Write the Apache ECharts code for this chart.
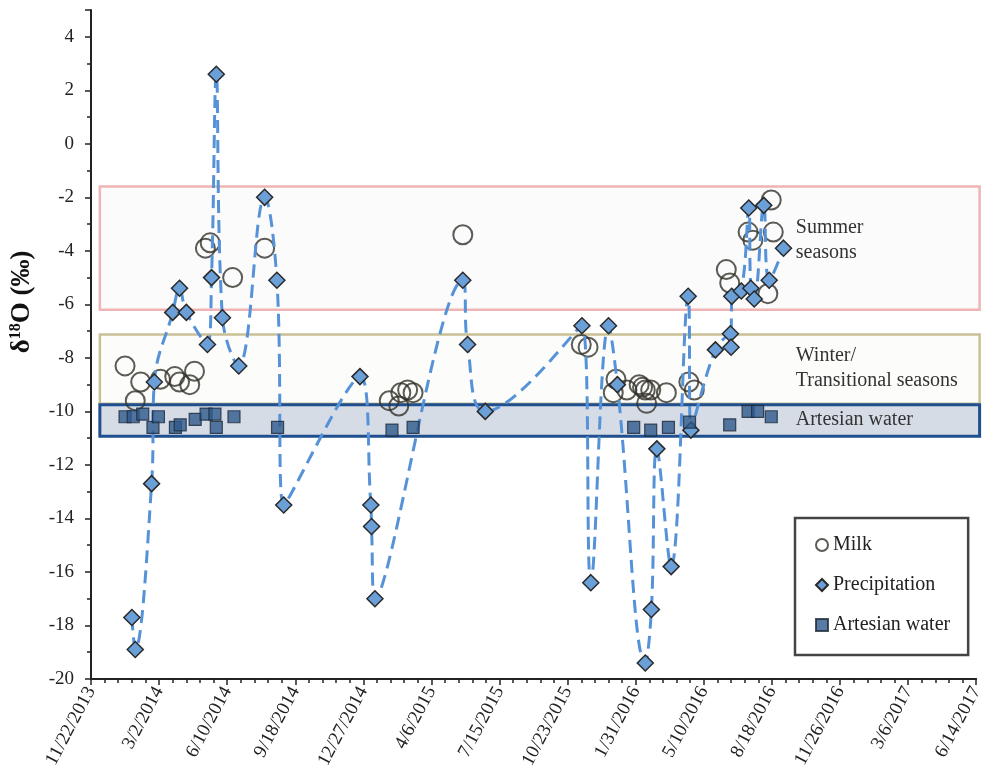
<!DOCTYPE html>
<html><head><meta charset="utf-8">
<script src="https://cdn.jsdelivr.net/npm/echarts@6/dist/echarts.min.js"></script>
<style>html,body{margin:0;padding:0;background:#fff}#c{width:986px;height:782px}</style>
</head><body><div id="c"></div>
<script>
// X values are Excel date serials (41600 = 11/22/2013)
const xTickLabels = ['11/22/2013','3/2/2014','6/10/2014','9/18/2014','12/27/2014','4/6/2015','7/15/2015','10/23/2015','1/31/2016','5/10/2016','8/18/2016','11/26/2016','3/6/2017','6/14/2017'];

const milkDates  = [41650,41665,41673,41702,41723,41730,41745,41752,41768,41775,41808,41855,42038,42052,42055,42065,42073,42146,42320,42330,42367,42371,42387,42405,42410,42414,42416,42422,42445,42478,42486,42533,42538,42565,42572,42594,42599,42602];
const milkValues = [-8.3,-9.6,-8.9,-8.8,-8.7,-8.9,-9.0,-8.5,-3.9,-3.7,-5.0,-3.9,-9.6,-9.8,-9.3,-9.2,-9.3,-3.4,-7.5,-7.6,-9.3,-8.8,-9.2,-9.0,-9.1,-9.2,-9.7,-9.2,-9.3,-8.9,-9.2,-4.7,-5.2,-3.3,-3.6,-5.6,-2.1,-3.3];

const precipDates  = [41660,41665,41689,41693,41720,41730,41740,41771,41777,41784,41793,41817,41855,41873,41883,41995,42011,42012,42017,42146,42153,42179,42321,42334,42360,42373,42414,42423,42431,42452,42477,42481,42517,42539,42540,42541,42555,42566,42569,42574,42588,42596,42617];
const precipValues = [-17.7,-18.9,-12.7,-8.9,-6.3,-5.4,-6.3,-7.5,-5.0,2.6,-6.5,-8.3,-2.0,-5.1,-13.5,-8.7,-13.5,-14.3,-17.0,-5.1,-7.5,-10.0,-6.8,-16.4,-6.8,-9.0,-19.4,-17.4,-11.4,-15.8,-5.7,-10.7,-7.7,-7.1,-7.6,-5.7,-5.5,-2.4,-5.4,-5.8,-2.3,-5.1,-3.9];

const artDates  = [41650,41662,41676,41691,41699,41724,41731,41753,41769,41782,41784,41810,41874,42042,42073,42397,42422,42448,42479,42538,42565,42579,42599];
const artValues = [-10.2,-10.2,-10.1,-10.6,-10.2,-10.6,-10.5,-10.3,-10.1,-10.1,-10.6,-10.2,-10.6,-10.7,-10.6,-10.6,-10.7,-10.6,-10.4,-10.5,-10.0,-10.0,-10.2];

// Season bands (annotation boxes)
const bandLabels = ['Summer\nseasons', 'Winter/\nTransitional seasons', 'Artesian water'];
const bandTop    = [-1.6, -7.13, -9.75];
const bandBottom = [-6.2, -9.71, -10.93];
const bandStart = 41613, bandEnd = 42905;
const bandLabelX = 42635;
const bandLabelY = [-3.6, -8.4, -10.33];

const serif = '"Liberation Serif","Times New Roman",serif';
const pair = (xs, ys) => xs.map((x, i) => [x, ys[i]]);

const chart = echarts.init(document.getElementById('c'), null, {renderer: 'canvas'});
const axisCommon = {
  axisLine: {show: true, onZero: false, lineStyle: {color: '#222', width: 2}},
  axisTick: {show: true, length: 6, lineStyle: {color: '#222', width: 1.5}},
  splitLine: {show: false}
};
const option = {
  animation: false,
  backgroundColor: '#fff',
  grid: {left: 91, right: 7, top: 10, bottom: 103},
  xAxis: Object.assign({
    type: 'value', min: 41600, max: 42900, interval: 100,
    minorTick: {show: true, splitNumber: 5, length: 4, lineStyle: {color: '#222', width: 1.5}},
    axisLabel: {rotate: 62, fontSize: 19, fontFamily: serif, color: '#222', margin: 9,
      formatter: v => xTickLabels[Math.round((v - 41600) / 100)] || ''}
  }, axisCommon),
  yAxis: Object.assign({
    type: 'value', min: -20, max: 5, interval: 2,
    minorTick: {show: true, splitNumber: 2, length: 4, lineStyle: {color: '#222', width: 1.5}},
    axisLabel: {showMaxLabel: false, fontSize: 19, fontFamily: serif, color: '#222', margin: 17}
  }, axisCommon),
  legend: {
    orient: 'vertical', left: 795, top: 518,
    padding: [17, 18, 20, 20], itemGap: 20, itemWidth: 12, itemHeight: 12,
    borderColor: '#444', borderWidth: 2.5, backgroundColor: '#fff',
    textStyle: {fontFamily: serif, fontSize: 20, color: '#222'},
    data: [{name: 'Milk', icon: 'circle'}, {name: 'Precipitation', icon: 'diamond'}, {name: 'Artesian water', icon: 'rect'}]
  },
  series: [
    {name: 'Milk', type: 'scatter', symbol: 'circle', symbolSize: 19, z: 3,
     itemStyle: {color: 'rgba(255,255,255,0)', borderColor: '#33322a', borderWidth: 2},
     data: pair(milkDates, milkValues)},
    {name: 'Precipitation', type: 'line', smooth: 0.4, symbol: 'diamond', symbolSize: 16, showAllSymbol: true, z: 4,
     lineStyle: {color: '#5592d8', width: 3, type: [13, 7]},
     itemStyle: {color: '#6a9fd8', borderColor: '#2a2a2a', borderWidth: 1.5},
     data: pair(precipDates, precipValues)},
    {name: 'Artesian water', type: 'scatter', symbol: 'rect', symbolSize: 12, z: 5,
     itemStyle: {color: '#2f5a8c', borderColor: '#1b2838', borderWidth: 1.2},
     data: pair(artDates, artValues)}
  ]
};
chart.setOption(option);

const toPx = (x, y) => chart.convertToPixel({gridIndex: 0}, [x, y]);
const bandStyles = [
  {fill: '#fbfbfb', stroke: '#efb4b4', lineWidth: 2.5},
  {fill: '#fcfcfb', stroke: '#c9c096', lineWidth: 2.5},
  {fill: '#d6dce6', stroke: '#1f4f8f', lineWidth: 3}
];
const graphics = [];
bandLabels.forEach((lab, i) => {
  const p1 = toPx(bandStart, bandTop[i]);
  const p2 = toPx(bandEnd, bandBottom[i]);
  graphics.push({type: 'rect', z: 1, silent: true,
    shape: {x: p1[0], y: p1[1], width: p2[0] - p1[0], height: p2[1] - p1[1]},
    style: bandStyles[i]});
});
bandLabels.forEach((lab, i) => {
  const p = toPx(bandLabelX, bandLabelY[i]);
  graphics.push({type: 'text', z: 1, silent: true, x: p[0], y: p[1],
    style: {text: lab, font: '20px ' + serif, fill: '#333', align: 'left', verticalAlign: 'middle', lineHeight: 25}});
});
graphics.push({type: 'text', z: 1, silent: true, x: 22, y: 302, rotation: Math.PI / 2,
  style: {text: '{d|δ}{s|18}{d|O (‰)}', align: 'center', verticalAlign: 'middle', fill: '#111',
    rich: {d: {fontSize: 27, fontWeight: 'bold', fontFamily: serif, fill: '#111'},
           s: {fontSize: 16, fontWeight: 'bold', fontFamily: serif, fill: '#111', padding: [0, 0, 12, 0]}}}});
chart.setOption({graphic: graphics});
</script></body></html>
